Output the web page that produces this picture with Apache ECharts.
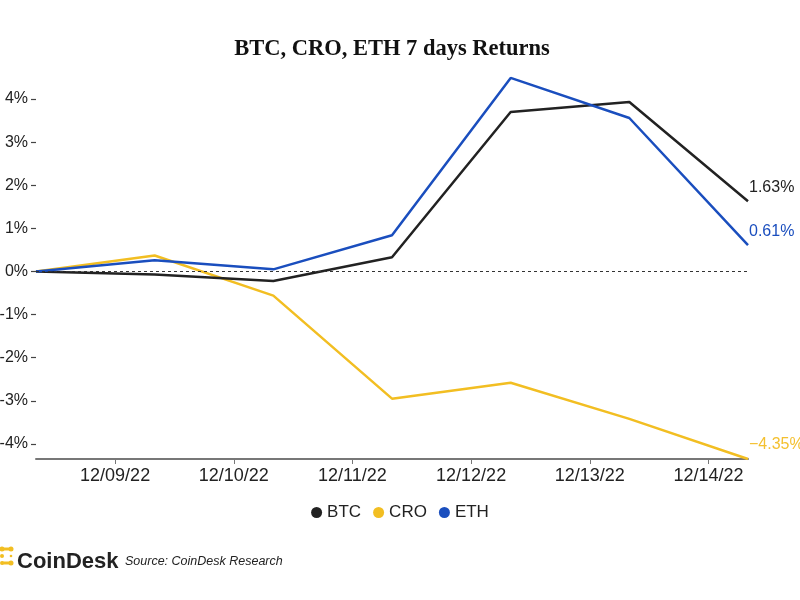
<!DOCTYPE html>
<html>
<head>
<meta charset="utf-8">
<script src="https://cdn.jsdelivr.net/npm/echarts@6/dist/echarts.min.js"></script>
<style>
html,body{margin:0;padding:0;background:#fff;}
#chart{width:800px;height:600px;}
</style>
</head>
<body>
<div id="chart"></div>
<script>
// Data (returns in % vs start), timestamps local time
const dates = ['2022-12-08 08:00','2022-12-09 08:00','2022-12-10 08:00','2022-12-11 08:00','2022-12-12 08:00','2022-12-13 08:00','2022-12-14 08:00'];
const btc = [0, -0.07, -0.22, 0.33, 3.70, 3.93, 1.63];
const cro = [0, 0.37, -0.56, -2.95, -2.58, -3.42, -4.35];
const eth = [0, 0.26, 0.05, 0.84, 4.49, 3.56, 0.61];
const xTicks = ['2022-12-09 00:00','2022-12-10 00:00','2022-12-11 00:00','2022-12-12 00:00','2022-12-13 00:00','2022-12-14 00:00'];
const yTicks = [-4, -3, -2, -1, 0, 1, 2, 3, 4];

const colors = {BTC:'#222222', CRO:'#F2BE22', ETH:'#1A4EBE'};
const toTs = s => { const p = s.split(/[- :]/).map(Number); return new Date(p[0], p[1]-1, p[2], p[3]||0, p[4]||0).getTime(); };
const pad = n => (n < 10 ? '0' : '') + n;
const fmtDate = v => { const d = new Date(v); return pad(d.getMonth()+1) + '/' + pad(d.getDate()) + '/' + String(d.getFullYear()).slice(2); };

function mk(name, arr) {
  return {
    name: name,
    type: 'line',
    data: dates.map((d, i) => [toTs(d), arr[i]]),
    showSymbol: false,
    symbol: 'none',
    lineStyle: {color: colors[name], width: 2.5},
    itemStyle: {color: colors[name]},
    endLabel: {
      show: true,
      formatter: p => (p.value[1] < 0 ? '\u2212' : '') + Math.abs(p.value[1]).toFixed(2) + '%',
      color: name === 'CRO' ? '#F4C030' : colors[name],
      fontFamily: 'Liberation Sans',
      fontSize: 16,
      distance: 1,
      offset: [0, -14]
    },
    animation: false
  };
}

const chart = echarts.init(document.getElementById('chart'), null, {renderer: 'canvas'});
const series = [mk('BTC', btc), mk('CRO', cro), mk('ETH', eth)];
series[0].markLine = {
  silent: true, symbol: 'none', label: {show: false},
  lineStyle: {color: '#333', type: [3, 3], width: 1},
  data: [{yAxis: 0}], animation: false
};
series[0].z = 3; series[1].z = 2; series[2].z = 4;

chart.setOption({
  animation: false,
  backgroundColor: '#fff',
  title: {
    text: 'BTC, CRO, ETH 7 days Returns',
    left: 387, textAlign: 'center', top: 33,
    textStyle: {fontFamily: 'Liberation Serif', fontWeight: 'bold', fontSize: 22.5, color: '#111'}
  },
  legend: {
    data: ['BTC', 'CRO', 'ETH'],
    top: 499, left: 'center',
    icon: 'circle', itemWidth: 11, itemHeight: 11, itemGap: 12,
    textStyle: {fontFamily: 'Liberation Sans', fontSize: 17, color: '#222'}
  },
  grid: {left: 36, right: 52, top: 77.5, bottom: 141, containLabel: false, outerBoundsMode: 'none'},
  xAxis: {
    type: 'value',
    min: toTs(dates[0]), max: toTs(dates[dates.length-1]),
    axisLine: {show: true, onZero: false, lineStyle: {color: '#777', width: 2}},
    axisTick: {show: true, length: 5, lineStyle: {color: '#777', width: 1}, customValues: xTicks.map(toTs)},
    axisLabel: {
      customValues: xTicks.map(toTs),
      formatter: v => fmtDate(v),
      fontFamily: 'Liberation Sans', fontSize: 18, color: '#222', margin: 8
    },
    splitLine: {show: false}
  },
  yAxis: {
    type: 'value',
    min: -4.35, max: 4.5,
    axisLine: {show: false},
    axisTick: {show: true, length: 5, inside: false, lineStyle: {color: '#444', width: 1.2}, customValues: yTicks},
    axisLabel: {
      customValues: yTicks,
      formatter: v => v + '%',
      fontFamily: 'Liberation Sans', fontSize: 16, color: '#222', margin: 8
    },
    splitLine: {show: false}
  },
  series: series,
  graphic: [
    {type: 'circle', shape: {cx: 2, cy: 549, r: 2.5}, style: {fill: '#F2BE22'}},
    {type: 'rect', shape: {x: 2, y: 547.5, width: 9, height: 3}, style: {fill: '#F2BE22'}},
    {type: 'circle', shape: {cx: 11, cy: 549, r: 2.5}, style: {fill: '#F2BE22'}},
    {type: 'circle', shape: {cx: 2, cy: 556, r: 2}, style: {fill: '#F2BE22'}},
    {type: 'circle', shape: {cx: 11, cy: 556, r: 1.3}, style: {fill: '#F2BE22'}},
    {type: 'circle', shape: {cx: 2, cy: 563, r: 2}, style: {fill: '#F2BE22'}},
    {type: 'circle', shape: {cx: 11, cy: 563, r: 2.5}, style: {fill: '#F2BE22'}},
    {type: 'rect', shape: {x: 2, y: 561.5, width: 9, height: 3}, style: {fill: '#F2BE22'}},
    {type: 'text', left: 17, top: 551, style: {text: 'CoinDesk', fontFamily: 'Liberation Sans', fontWeight: 'bold', fontSize: 22, fill: '#222'}},
    {type: 'text', left: 125, top: 555, style: {text: 'Source: CoinDesk Research', fontFamily: 'Liberation Sans', fontStyle: 'italic', fontSize: 12.5, fill: '#222'}}
  ]
});
</script>
</body>
</html>
